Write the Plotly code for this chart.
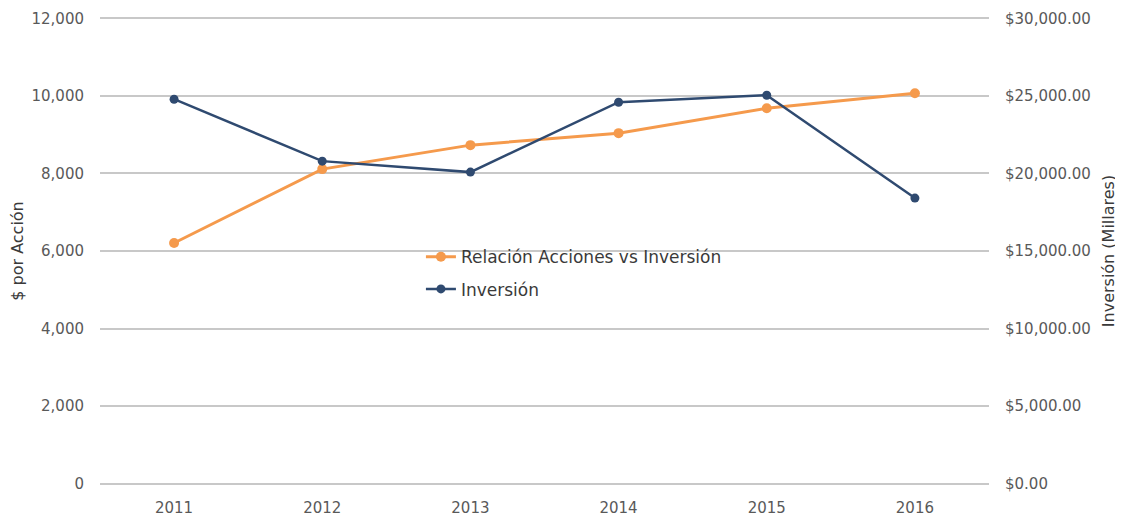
import plotly.graph_objects as go

years = ["2011", "2012", "2013", "2014", "2015", "2016"]
relacion = [6206, 8112, 8730, 9039, 9682, 10069]
inversion = [24785, 20794, 20086, 24592, 25043, 18412]

left_ticks = [0, 2000, 4000, 6000, 8000, 10000, 12000]
right_ticks = [0, 5000, 10000, 15000, 20000, 25000, 30000]
right_labels = ["$%s" % format(v, ",.2f") for v in right_ticks]

ORANGE = "#F59A4C"
BLUE = "#2F4A70"
FONT = "DejaVu Sans"
TICKC = "#595959"

fig = go.Figure()
fig.add_trace(go.Scatter(
    x=years, y=relacion, name="Relación Acciones vs Inversión",
    mode="lines+markers", line=dict(color=ORANGE, width=3),
    marker=dict(size=10, color=ORANGE), yaxis="y", legendgroup="a"))
fig.add_trace(go.Scatter(
    x=years, y=inversion, name="Inversión",
    mode="lines+markers", line=dict(color=BLUE, width=2.5),
    marker=dict(size=9, color=BLUE), yaxis="y2", legendgroup="b"))

fig.update_layout(
    width=1115, height=515,
    margin=dict(l=92, r=134, t=8, b=37, autoexpand=False),
    paper_bgcolor="white", plot_bgcolor="white",
    font=dict(family=FONT, color=TICKC, size=15),
    xaxis=dict(type="category", range=[-0.5, 5.5], showgrid=False,
               showline=False, ticks="", automargin=False, ticklabelstandoff=11,
               tickfont=dict(size=15, color=TICKC)),
    yaxis=dict(range=[-60, 12060], tickvals=left_ticks, tickformat=",d",
               showgrid=True, gridcolor="#C8C8C8", gridwidth=2, zeroline=False,
               showline=False, ticks="", automargin=False, ticklabelstandoff=15,
               tickfont=dict(size=15, color=TICKC),
               title=dict(text="$ por Acción", font=dict(size=16, color="#3a3a3a"), standoff=3)),
    yaxis2=dict(range=[-150, 30150], tickvals=right_ticks, ticktext=right_labels,
                overlaying="y", side="right", showgrid=False, zeroline=False,
                showline=False, ticks="", automargin=False, ticklabelstandoff=15,
                tickfont=dict(size=15, color=TICKC),
                title=dict(text="Inversión (Millares)", font=dict(size=16, color="#3a3a3a"), standoff=12)),
    legend=dict(x=0.361, y=0.525, xanchor="left", yanchor="top",
                bgcolor="rgba(0,0,0,0)", font=dict(size=17, color="#3a3a3a"),
                tracegroupgap=7, traceorder="grouped"),
    showlegend=True,
)

fig.write_html("out.html")
